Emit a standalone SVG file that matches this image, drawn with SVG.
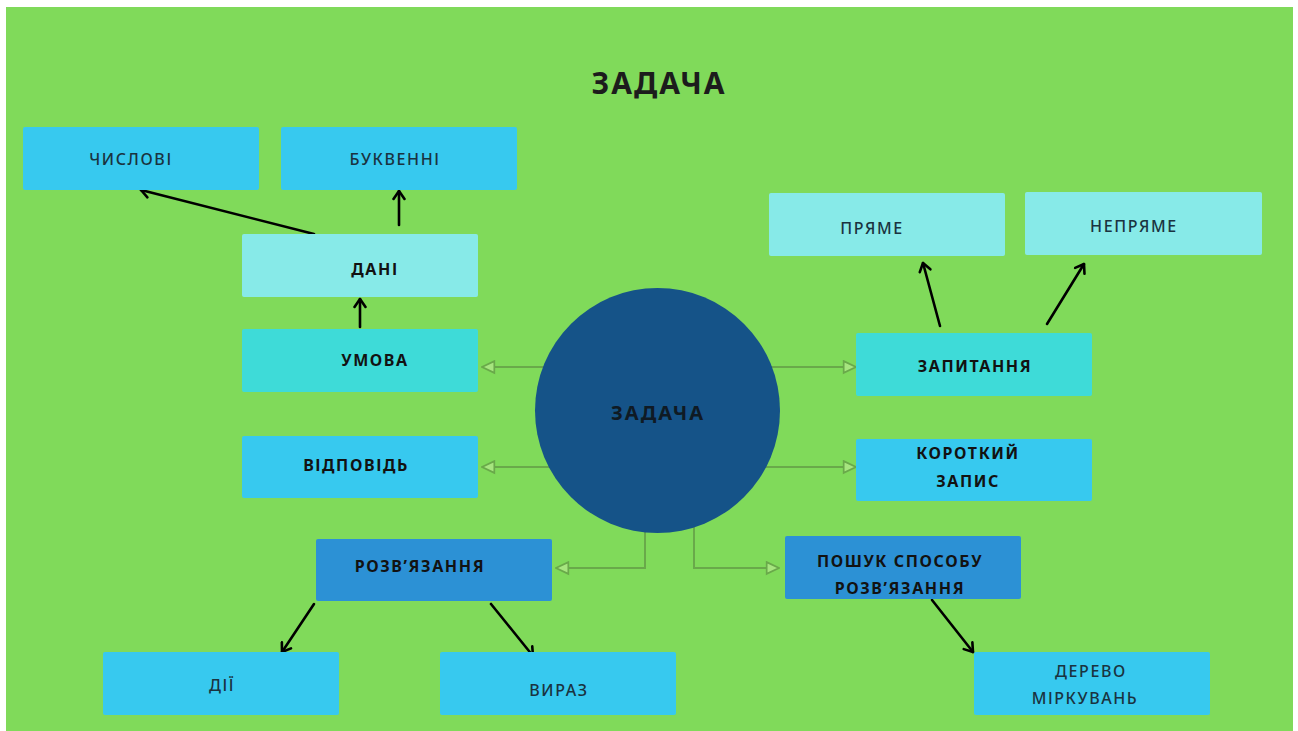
<svg xmlns="http://www.w3.org/2000/svg" width="1298" height="731" viewBox="0 0 1298 731">
  <defs>
    <style>
      .box { stroke: none; }
      .c1 { fill: #37c9ef; }
      .c2 { fill: #87eae8; }
      .c3 { fill: #3edbd8; }
      .c4 { fill: #2c91d5; }
      .lbl { font-family: "Noto Sans", "DejaVu Sans", sans-serif; font-size: 16px; letter-spacing: 1.6px; text-anchor: middle; }
      .reg { fill: #1a3340; font-weight: 500; }
      .bold { fill: #121212; font-weight: 700; }
      .link { fill: none; stroke: #69a94a; stroke-width: 2; }
      .arrow { fill: none; stroke: #000; stroke-width: 2.6; stroke-linecap: round; }
    </style>
    <marker id="hollow" viewBox="0 0 14 14" refX="13" refY="7" markerWidth="15" markerHeight="15" markerUnits="userSpaceOnUse" orient="auto">
      <path d="M1.5,1.5 L13,7 L1.5,12.5 Z" fill="#a6e57f" stroke="#69a94a" stroke-width="1.6"/>
    </marker>
    <marker id="open" viewBox="0 0 14 14" refX="12" refY="7" markerWidth="14" markerHeight="14" markerUnits="userSpaceOnUse" orient="auto">
      <path d="M4,1.5 L12,7 L4,12.5" fill="none" stroke="#000" stroke-width="2.6" stroke-linecap="round" stroke-linejoin="round"/>
    </marker>
  </defs>

  <!-- canvas -->
  <rect x="0" y="0" width="1298" height="731" fill="#ffffff"/>
  <rect x="6" y="7" width="1287" height="724" fill="#80da5a"/>

  <!-- heading -->
  <text x="659" y="94" font-family="Noto Sans, DejaVu Sans, sans-serif" font-size="30" font-weight="700" letter-spacing="2" text-anchor="middle" fill="#1c1c1c">ЗАДАЧА</text>

  <!-- connectors -->
  <g id="connectors">
    <line class="link" x1="600" y1="367" x2="482" y2="367" marker-end="url(#hollow)"/>
    <line class="link" x1="600" y1="467" x2="482" y2="467" marker-end="url(#hollow)"/>
    <line class="link" x1="700" y1="367" x2="856" y2="367" marker-end="url(#hollow)"/>
    <line class="link" x1="700" y1="467" x2="856" y2="467" marker-end="url(#hollow)"/>
    <polyline class="link" points="645,480 645,568 556,568" marker-end="url(#hollow)"/>
    <polyline class="link" points="694,480 694,568 779,568" marker-end="url(#hollow)"/>

    <line class="arrow" x1="314" y1="234" x2="141" y2="190" marker-end="url(#open)"/>
    <line class="arrow" x1="399" y1="225" x2="399" y2="191" marker-end="url(#open)"/>
    <line class="arrow" x1="360" y1="327" x2="360" y2="299" marker-end="url(#open)"/>
    <line class="arrow" x1="940" y1="326" x2="923" y2="263" marker-end="url(#open)"/>
    <line class="arrow" x1="1047" y1="324" x2="1084" y2="264" marker-end="url(#open)"/>
    <line class="arrow" x1="314" y1="604" x2="282" y2="652" marker-end="url(#open)"/>
    <line class="arrow" x1="491" y1="604" x2="533" y2="656" marker-end="url(#open)"/>
    <line class="arrow" x1="932" y1="600" x2="973" y2="652" marker-end="url(#open)"/>
  </g>

  <!-- central node -->
  <g id="node-center">
    <circle cx="657.5" cy="410.5" r="122.5" fill="#155388"/>
    <text x="658" y="420" font-family="Noto Sans, DejaVu Sans, sans-serif" font-size="20" font-weight="700" letter-spacing="2" text-anchor="middle" fill="#0f1a24">ЗАДАЧА</text>
  </g>

  <g id="node-chyslovi">
    <rect class="box c1" x="23" y="127" width="236" height="63" rx="2"/>
    <text class="lbl reg" x="131" y="165">ЧИСЛОВІ</text>
  </g>
  <g id="node-bukvenni">
    <rect class="box c1" x="281" y="127" width="236" height="63" rx="2"/>
    <text class="lbl reg" x="395" y="165">БУКВЕННІ</text>
  </g>
  <g id="node-dani">
    <rect class="box c2" x="242" y="234" width="236" height="63" rx="2"/>
    <text class="lbl bold" x="375" y="275">ДАНІ</text>
  </g>
  <g id="node-umova">
    <rect class="box c3" x="242" y="329" width="236" height="63" rx="2"/>
    <text class="lbl bold" x="375" y="366">УМОВА</text>
  </g>
  <g id="node-vidpovid">
    <rect class="box c1" x="242" y="436" width="236" height="62" rx="2"/>
    <text class="lbl bold" x="356" y="471">ВІДПОВІДЬ</text>
  </g>

  <g id="node-pryame">
    <rect class="box c2" x="769" y="193" width="236" height="63" rx="2"/>
    <text class="lbl reg" x="872" y="234">ПРЯМЕ</text>
  </g>
  <g id="node-nepryame">
    <rect class="box c2" x="1025" y="192" width="237" height="63" rx="2"/>
    <text class="lbl reg" x="1134" y="232">НЕПРЯМЕ</text>
  </g>
  <g id="node-zapytannya">
    <rect class="box c3" x="856" y="333" width="236" height="63" rx="2"/>
    <text class="lbl bold" x="975" y="372">ЗАПИТАННЯ</text>
  </g>
  <g id="node-korotkyi-zapys">
    <rect class="box c1" x="856" y="439" width="236" height="62" rx="2"/>
    <text class="lbl bold" x="968" y="459">КОРОТКИЙ</text>
    <text class="lbl bold" x="968" y="487">ЗАПИС</text>
  </g>

  <g id="node-rozvyazannya">
    <rect class="box c4" x="316" y="539" width="236" height="62" rx="2"/>
    <text class="lbl bold" x="420" y="572">РОЗВ’ЯЗАННЯ</text>
  </g>
  <g id="node-poshuk">
    <rect class="box c4" x="785" y="536" width="236" height="63" rx="2"/>
    <text class="lbl bold" x="900" y="567">ПОШУК СПОСОБУ</text>
    <text class="lbl bold" x="900" y="594">РОЗВ’ЯЗАННЯ</text>
  </g>

  <g id="node-dii">
    <rect class="box c1" x="103" y="652" width="236" height="63" rx="2"/>
    <text class="lbl reg" x="222" y="691">ДІЇ</text>
  </g>
  <g id="node-vyraz">
    <rect class="box c1" x="440" y="652" width="236" height="63" rx="2"/>
    <text class="lbl reg" x="559" y="696">ВИРАЗ</text>
  </g>
  <g id="node-derevo">
    <rect class="box c1" x="974" y="652" width="236" height="63" rx="2"/>
    <text class="lbl reg" x="1091" y="677">ДЕРЕВО</text>
    <text class="lbl reg" x="1085" y="704">МІРКУВАНЬ</text>
  </g>
</svg>
